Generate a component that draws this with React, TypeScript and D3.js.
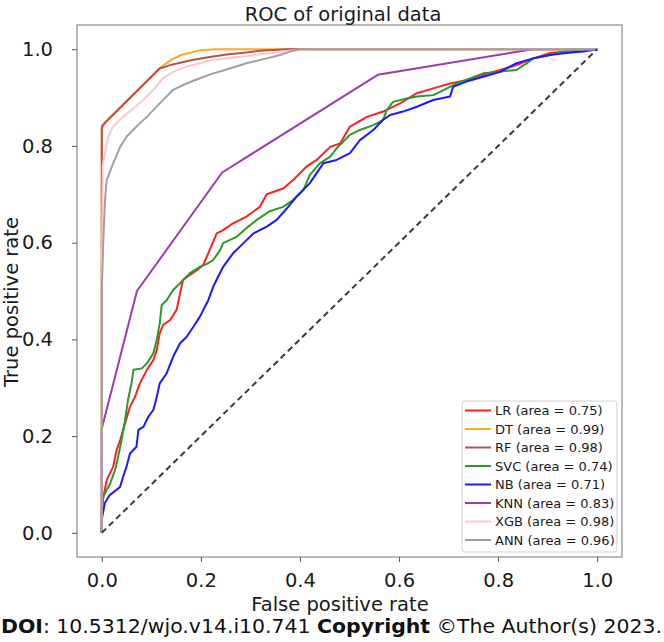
import React, { useRef, useEffect } from 'react';
import * as d3 from 'd3';

const width = 664;
const height = 642;
const plotLeft = 77;
const plotRight = 622;
const plotTop = 25;
const plotBottom = 557;
const fontFamily = '"DejaVu Sans", Verdana, sans-serif';

const titleText = 'ROC of original data';
const xLabelText = 'False positive rate';
const yLabelText = 'True positive rate';

const tickValues = [0, 0.2, 0.4, 0.6, 0.8, 1.0];

const modelNames = ['LR', 'DT', 'RF', 'SVC', 'NB', 'KNN', 'XGB', 'ANN'];
const modelAucs = [0.75, 0.99, 0.98, 0.74, 0.71, 0.83, 0.98, 0.96];
const modelColors = ['#ff2020', '#ffaa22', '#b5524c', '#2a9a2a', '#1a1aff', '#9b3cb0', '#ffc6cf', '#a0a0a0'];

// [fpr, tpr] pairs
const lrPoints = [[0,0],[0,0.05],[0.002,0.068],[0.01,0.109],[0.023,0.137],[0.03,0.171],[0.037,0.192],[0.047,0.226],[0.057,0.261],[0.067,0.281],[0.077,0.309],[0.091,0.337],[0.104,0.357],[0.111,0.378],[0.117,0.413],[0.124,0.43],[0.138,0.44],[0.151,0.461],[0.158,0.495],[0.164,0.523],[0.178,0.533],[0.192,0.543],[0.205,0.554],[0.212,0.571],[0.232,0.619],[0.245,0.626],[0.265,0.64],[0.292,0.654],[0.319,0.674],[0.333,0.70],[0.366,0.712],[0.387,0.73],[0.413,0.757],[0.434,0.771],[0.461,0.798],[0.481,0.805],[0.501,0.84],[0.535,0.86],[0.568,0.871],[0.602,0.888],[0.636,0.909],[0.669,0.919],[0.703,0.929],[0.736,0.936],[0.77,0.947],[0.804,0.957],[0.837,0.967],[0.871,0.981],[0.905,0.992],[0.938,0.995],[0.972,0.997],[1,1]];
const dtPoints = [[0,0],[0,0.835],[0.005,0.845],[0.117,0.961],[0.14,0.978],[0.16,0.988],[0.2,0.998],[0.23,1],[1,1]];
const rfPoints = [[0,0],[0,0.84],[0.008,0.85],[0.117,0.96],[0.138,0.967],[0.158,0.972],[0.185,0.978],[0.218,0.984],[0.252,0.989],[0.292,0.993],[0.319,0.997],[0.373,1.0],[1,1]];
const svcPoints = [[0,0],[0,0.04],[0.003,0.075],[0.017,0.102],[0.027,0.13],[0.033,0.157],[0.04,0.192],[0.047,0.233],[0.053,0.275],[0.06,0.309],[0.064,0.337],[0.081,0.34],[0.091,0.35],[0.104,0.371],[0.111,0.399],[0.117,0.433],[0.121,0.471],[0.131,0.481],[0.144,0.502],[0.158,0.516],[0.178,0.537],[0.198,0.55],[0.212,0.556],[0.225,0.564],[0.239,0.585],[0.245,0.599],[0.272,0.612],[0.292,0.63],[0.313,0.647],[0.339,0.665],[0.366,0.674],[0.386,0.688],[0.407,0.709],[0.42,0.74],[0.44,0.764],[0.461,0.778],[0.474,0.795],[0.501,0.823],[0.521,0.833],[0.548,0.843],[0.568,0.854],[0.575,0.874],[0.588,0.891],[0.615,0.898],[0.636,0.902],[0.669,0.905],[0.703,0.922],[0.716,0.929],[0.77,0.95],[0.797,0.953],[0.837,0.957],[0.858,0.971],[0.871,0.981],[0.905,0.988],[0.931,0.995],[0.965,0.997],[1,1]];
const nbPoints = [[0,0],[0,0.02],[0.001,0.033],[0.006,0.061],[0.016,0.078],[0.03,0.089],[0.037,0.095],[0.043,0.116],[0.05,0.137],[0.057,0.164],[0.07,0.178],[0.074,0.213],[0.084,0.219],[0.094,0.24],[0.104,0.254],[0.111,0.281],[0.117,0.309],[0.131,0.33],[0.144,0.364],[0.158,0.392],[0.171,0.405],[0.185,0.426],[0.198,0.447],[0.215,0.481],[0.225,0.509],[0.235,0.53],[0.245,0.55],[0.265,0.578],[0.286,0.599],[0.306,0.619],[0.333,0.633],[0.353,0.647],[0.373,0.67],[0.393,0.695],[0.42,0.723],[0.447,0.764],[0.474,0.771],[0.501,0.785],[0.521,0.812],[0.548,0.833],[0.568,0.854],[0.582,0.864],[0.608,0.871],[0.636,0.881],[0.669,0.895],[0.703,0.902],[0.709,0.922],[0.736,0.933],[0.77,0.943],[0.804,0.953],[0.837,0.971],[0.871,0.981],[0.905,0.988],[0.938,0.992],[0.972,0.995],[1,1]];
const knnPoints = [[0,0],[0,0.215],[0.071,0.5],[0.243,0.745],[0.557,0.947],[0.87,1],[1,1]];
const xgbPoints = [[0,0],[0,0.5],[0.002,0.76],[0.0065,0.785],[0.013,0.819],[0.023,0.84],[0.043,0.86],[0.064,0.878],[0.084,0.895],[0.104,0.916],[0.124,0.94],[0.144,0.953],[0.171,0.964],[0.198,0.971],[0.225,0.978],[0.292,0.986],[0.333,0.991],[0.373,0.996],[0.42,1],[1,1]];
const annPoints = [[0,0],[0,0.5],[0.003,0.6],[0.0065,0.688],[0.01,0.73],[0.023,0.764],[0.037,0.798],[0.05,0.819],[0.07,0.84],[0.091,0.86],[0.117,0.888],[0.144,0.916],[0.171,0.929],[0.198,0.94],[0.225,0.95],[0.252,0.958],[0.292,0.971],[0.333,0.981],[0.36,0.988],[0.38,0.995],[0.40,1],[1,1]];
const chancePoints = [[0,0],[1,1]];

const modelPoints = [lrPoints, dtPoints, rfPoints, svcPoints, nbPoints, knnPoints, xgbPoints, annPoints];

const draw = (element) => {
    const svg = d3.select(element);
    svg.selectAll('*').remove();

    const x = d3.scaleLinear([-0.05, 1.05], [plotLeft, plotRight]);
    const y = d3.scaleLinear([-0.05, 1.05], [plotBottom, plotTop]);
    const line = d3.line().x(d => x(d[0])).y(d => y(d[1]));

    // curves
    modelPoints.forEach((pts, i) => {
        svg.append('path')
            .attr('d', line(pts))
            .attr('fill', 'none')
            .attr('stroke', modelColors[i])
            .attr('stroke-width', 2)
            .attr('stroke-linejoin', 'round');
    });

    svg.append('path')
        .attr('d', line(chancePoints))
        .attr('fill', 'none')
        .attr('stroke', '#3a3a3a')
        .attr('stroke-width', 2)
        .attr('stroke-dasharray', '6,4');

    // frame
    svg.append('rect')
        .attr('x', plotLeft).attr('y', plotTop)
        .attr('width', plotRight - plotLeft).attr('height', plotBottom - plotTop)
        .attr('fill', 'none').attr('stroke', '#8a8a8a').attr('stroke-width', 1.2);

    // axes
    const fmt = d3.format('.1f');
    const xAxis = svg.append('g')
        .attr('transform', `translate(0,${plotBottom})`)
        .call(d3.axisBottom(x).tickValues(tickValues).tickFormat(fmt).tickSize(5).tickPadding(11));
    const yAxis = svg.append('g')
        .attr('transform', `translate(${plotLeft},0)`)
        .call(d3.axisLeft(y).tickValues(tickValues).tickFormat(fmt).tickSize(5).tickPadding(19));
    [xAxis, yAxis].forEach(g => {
        g.select('.domain').remove();
        g.selectAll('line').attr('stroke', '#555');
        g.selectAll('text')
            .attr('fill', '#1a1a1a')
            .style('font-family', fontFamily)
            .style('font-size', '19.5px');
    });

    // titles
    svg.append('text')
        .attr('x', 343).attr('y', 21)
        .attr('text-anchor', 'middle')
        .style('font-family', fontFamily).style('font-size', '19.5px')
        .attr('fill', '#1a1a1a')
        .text(titleText);

    svg.append('text')
        .attr('x', 340).attr('y', 611)
        .attr('text-anchor', 'middle')
        .style('font-family', fontFamily).style('font-size', '19.5px')
        .attr('fill', '#1a1a1a')
        .text(xLabelText);

    svg.append('text')
        .attr('transform', 'translate(18,302) rotate(-90)')
        .attr('text-anchor', 'middle')
        .style('font-family', fontFamily).style('font-size', '19.5px')
        .attr('fill', '#1a1a1a')
        .text(yLabelText);

    // legend
    const legend = svg.append('g').attr('transform', 'translate(462,401)');
    legend.append('rect')
        .attr('width', 155).attr('height', 151)
        .attr('rx', 3)
        .attr('fill', 'white').attr('fill-opacity', 0.85)
        .attr('stroke', '#d0d0d0');
    const rowY = d3.scaleLinear([0, modelNames.length - 1], [9.5, 139]);
    modelNames.forEach((name, i) => {
        const row = legend.append('g').attr('transform', `translate(0,${rowY(i)})`);
        row.append('line')
            .attr('x1', 3).attr('x2', 29)
            .attr('stroke', modelColors[i]).attr('stroke-width', 2);
        row.append('text')
            .attr('x', 33).attr('y', 4.5)
            .style('font-family', fontFamily).style('font-size', '13px')
            .attr('fill', '#1a1a1a')
            .text(`${name} (area = ${modelAucs[i].toFixed(2)})`);
    });

    // footer
    const footer = svg.append('text')
        .attr('x', 1).attr('y', 633)
        .attr('textLength', 661).attr('lengthAdjust', 'spacingAndGlyphs')
        .style('font-family', fontFamily).style('font-size', '19px')
        .attr('fill', '#111');
    footer.append('tspan').attr('font-weight', 'bold').text('DOI');
    footer.append('tspan').text(': 10.5312/wjo.v14.i10.741 ');
    footer.append('tspan').attr('font-weight', 'bold').text('Copyright');
    footer.append('tspan').text(' \u00A9The Author(s) 2023.');
};

const App = () => {
    const ref = useRef(null);
    useEffect(() => {
        if (ref.current) draw(ref.current);
    }, []);
    return (
        <svg ref={ref} width={width} height={height}
             style={{ position: 'absolute', left: 0, top: 0, background: 'white' }} />
    );
};

export default App;
